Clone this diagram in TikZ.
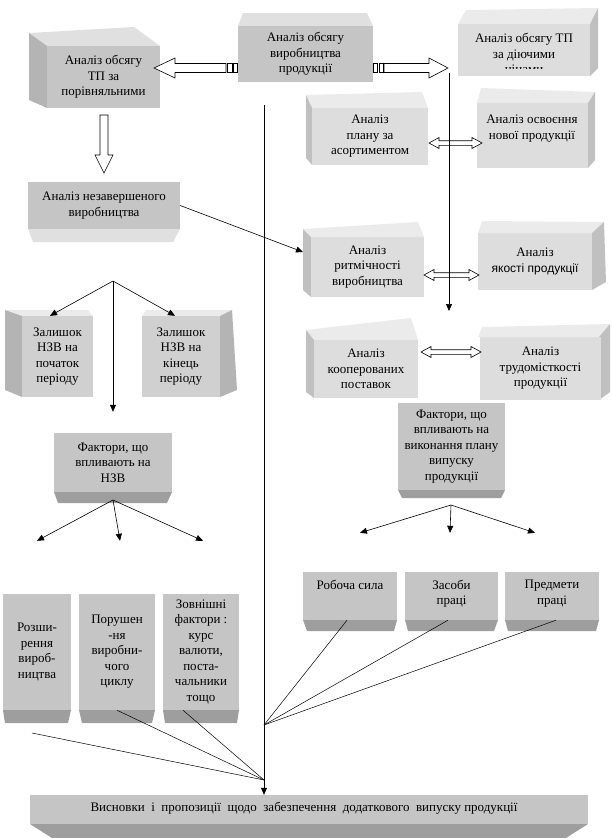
\documentclass[tikz,border=0pt]{standalone}
\usepackage{fontspec}
\setmainfont{Liberation Serif}
\newfontfamily\arialfont{Liberation Sans}
\usetikzlibrary{arrows.meta}

\definecolor{midfront}{RGB}{197,197,197}
\definecolor{midtop}{RGB}{224,224,224}
\definecolor{midside}{RGB}{180,180,180}
\definecolor{palefront}{RGB}{221,221,221}
\definecolor{paletop}{RGB}{235,235,235}
\definecolor{paleside}{RGB}{192,192,192}
\definecolor{restfront}{RGB}{208,208,208}
\definecolor{darkbase}{RGB}{158,158,158}

\tikzset{
  front/.style={fill=#1, inner sep=0pt, align=center, font=\fontsize{13}{15.5}\selectfont},
  txt/.style={inner sep=0pt, align=center, font=\fontsize{13}{15.5}\selectfont},
  link/.style={line width=0.6pt, -{Triangle[length=7pt,width=6pt]}},
  ray/.style={line width=0.5pt},
  hollow/.style={draw, fill=white, line width=0.6pt},
}

\begin{document}
\begin{tikzpicture}[x=1pt,y=-1pt]
	\useasboundingbox (0,0) rectangle (612,838);

	% top row
	\fill[midtop] (238,26) -- (243,13) -- (367,13) -- (373,26) -- cycle;
	\node[front=midfront, minimum width=135, minimum height=56] (obsyag) at (305.5,54) {Аналіз обсягу\\виробництва\\продукції};
	\fill[midtop] (47,46) -- (29,33) -- (134,27) -- (160,46) -- cycle;
	\fill[midside] (47,46) -- (29,33) -- (29,100) -- (47,108) -- cycle;
	\node[front=midfront, minimum width=113, minimum height=62] (porivn) at (103.5,77) {Аналіз обсягу\\ТП за\\порівняльними};
	\fill[paletop] (458,24) -- (466,10) -- (598,8) -- (590,24) -- cycle;
	\fill[paleside] (590,24) -- (598,8) -- (598,68) -- (590,76) -- cycle;
	\node[front=palefront, minimum width=132, minimum height=52] (diuchi) at (524,50) {};
	\begin{scope}
		\clip (458,24) rectangle (590,68.5);
		\node[txt] (diuchiT) at (524,55) {Аналіз обсягу ТП\\за діючими\\цінами};
	\end{scope}

	% right column
	\fill[paletop] (312,108) -- (306,95) -- (422,92) -- (428,108) -- cycle;
	\fill[paleside] (312,108) -- (306,95) -- (306,158) -- (312,165) -- cycle;
	\node[front=palefront, minimum width=116, minimum height=57] (asort) at (370,136.5) {Аналіз\\плану за\\асортиментом};
	\fill[paletop] (477,103) -- (481,88) -- (595,92) -- (588,103) -- cycle;
	\fill[paleside] (588,103) -- (595,92) -- (595,160) -- (588,168) -- cycle;
	\node[front=palefront, minimum width=111, minimum height=65] (osvoen) at (532.5,135.5) {};
	\node[txt] (osvoenT) at (532,128.5) {Аналіз освоєння\\нової продукції};
	\fill[paletop] (311,237) -- (303,229) -- (418,222) -- (424,237) -- cycle;
	\fill[paleside] (311,237) -- (303,229) -- (303,290) -- (311,297) -- cycle;
	\node[front=palefront, minimum width=113, minimum height=60] (rytm) at (367.5,267) {Аналіз\\ритмічності\\виробництва};
	\fill[paletop] (478,233) -- (482,221) -- (604,222) -- (592,233) -- cycle;
	\fill[paleside] (592,233) -- (604,222) -- (606,282) -- (592,290) -- cycle;
	\node[front=palefront, minimum width=114, minimum height=57] (yakist) at (535,261.5) {Аналіз\\{\arialfont\fontsize{12}{15.5}\selectfont якості продукції}};
	\fill[paletop] (314,340) -- (306,330) -- (411,318) -- (418,340) -- cycle;
	\fill[paleside] (314,340) -- (306,330) -- (306,392) -- (314,398) -- cycle;
	\node[front=palefront, minimum width=104, minimum height=58] (koop) at (366,369) {Аналіз\\кооперованих\\поставок};
	\fill[paletop] (478,337) -- (482,327) -- (610,324) -- (599,337) -- cycle;
	\fill[paleside] (599,337) -- (610,324) -- (610,392) -- (599,400) -- cycle;
	\node[front=palefront, minimum width=121, minimum height=63] (trud) at (540.5,368.5) {Аналіз\\трудомісткості\\продукції};

	% left column
	\fill[midtop] (28,229) -- (180,229) -- (173,242) -- (33,242) -- cycle;
	\node[front=midfront, minimum width=152, minimum height=47] (nezav) at (104,205.5) {Аналіз незавершеного\\виробництва};
	\fill[paletop] (22,316) -- (5,310) -- (88,310) -- (93,316) -- cycle;
	\fill[midside] (22,316) -- (5,310) -- (5,390) -- (22,397) -- cycle;
	\node[front=restfront, minimum width=71, minimum height=81] (zalPoch) at (57.5,356.5) {Залишок\\НЗВ на\\початок\\періоду};
	\fill[paletop] (142,316) -- (146,310) -- (232,310) -- (220,316) -- cycle;
	\fill[midside] (220,316) -- (232,310) -- (237,390) -- (220,397) -- cycle;
	\node[front=restfront, minimum width=78, minimum height=81] (zalKin) at (181,356.5) {Залишок\\НЗВ на\\кінець\\періоду};

	% factors
	\fill[darkbase] (54,492) -- (172,492) -- (167,503) -- (58,503) -- cycle;
	\node[front=midfront, minimum width=118, minimum height=59] (faktNzv) at (113,462.5) {Фактори, що\\впливають на\\НЗВ};
	\fill[darkbase] (398,490) -- (505,490) -- (501,498) -- (402,498) -- cycle;
	\node[front=midfront, minimum width=107, minimum height=87] (faktPlan) at (451.5,446.5) {Фактори, що\\впливають на\\виконання плану\\випуску\\продукції};

	% lower boxes
	\fill[darkbase] (3,710) -- (71,710) -- (68,723) -- (5,723) -- cycle;
	\node[front=midfront, minimum width=68, minimum height=116] (rozsh) at (37,652) {Розши-\\рення\\вироб-\\ництва};
	\fill[darkbase] (79,710) -- (155,710) -- (152,723) -- (82,723) -- cycle;
	\node[front=midfront, minimum width=76, minimum height=116] (porush) at (117,652) {Порушен\\-ня\\виробни-\\чого\\циклу};
	\fill[darkbase] (163,710) -- (239,710) -- (237,723) -- (165,723) -- cycle;
	\node[front=midfront, minimum width=76, minimum height=116] (zovn) at (201,652) {Зовнішні\\фактори :\\курс\\валюти,\\поста-\\чальники\\тощо};
	\fill[darkbase] (303,620) -- (397,620) -- (394,631) -- (307,631) -- cycle;
	\node[front=midfront, minimum width=94, minimum height=48] (robocha) at (350,596) {};
	\node[txt, anchor=north] (robochaT) at ([yshift=-8]robocha.north) {Робоча сила};
	\fill[darkbase] (405,620) -- (498,620) -- (494,631) -- (408,631) -- cycle;
	\node[front=midfront, minimum width=93, minimum height=48] (zasoby) at (451.5,596) {};
	\node[txt, anchor=north] (zasobyT) at ([yshift=-8]zasoby.north) {Засоби\\праці};
	\fill[darkbase] (505,620) -- (599,620) -- (596,631) -- (508,631) -- cycle;
	\node[front=midfront, minimum width=94, minimum height=48] (predm) at (552,596) {};
	\node[txt, anchor=north] (predmT) at ([yshift=-8]predm.north) {Предмети\\праці};

	% conclusions
	\fill[darkbase] (30,824) -- (588,824) -- (566,838) -- (52,838) -- cycle;
	\node[front=midfront, minimum width=558, minimum height=29] (vysn) at (309,809.5) {};
	\node[txt] (vysnT) at (304,808) {Висновки\ \ і\ \ пропозиції\ \ щодо\ \ забезпечення\ \ додаткового\ \ випуску продукції};

	% block arrows
	\draw[hollow] (154,68) -- (175,58) -- (175,63.5) -- (226,63.5) -- (226,72.5) -- (175,72.5) -- (175,78) -- cycle;
	\draw[hollow] (227,63.5) rectangle (232,72.5);
	\draw[hollow] (233,63.5) rectangle (237.5,72.5);
	\draw[hollow] (373.5,63.5) rectangle (377.5,72.5);
	\draw[hollow] (379,63.5) rectangle (383,72.5);
	\draw[hollow] (384,63.5) -- (429,63.5) -- (429,58) -- (448,68) -- (429,78) -- (429,72.5) -- (384,72.5) -- cycle;
	\draw[hollow] (100,115) -- (108,115) -- (108,155) -- (113,155) -- (104,173) -- (95,155) -- (100,155) -- cycle;
	\foreach \xa/\xb/\yy in {429/482/143, 424/479/275, 421/481/352}
		\draw[hollow] (\xa,\yy) -- (\xa+10,\yy-5.5) -- (\xa+10,\yy-2.3) -- (\xb-10,\yy-2.3) -- (\xb-10,\yy-5.5) -- (\xb,\yy)
			-- (\xb-10,\yy+5.5) -- (\xb-10,\yy+2.3) -- (\xa+10,\yy+2.3) -- (\xa+10,\yy+5.5) -- cycle;

	% thin connectors
	\coordinate (trunkTop) at (264,105);
	\coordinate (branchTop) at (449,73);
	\coordinate (branchEnd) at (449,311);
	\coordinate (rytmIn) at (303,252);
	\coordinate (split) at (113,281);
	\coordinate (nzvFork) at (113,500);
	\coordinate (planFork) at (451,505);
	\coordinate (joinR) at (264,725);
	\coordinate (joinL) at (264,780);
	\coordinate (freeL) at (32,733);
	\draw[link] (trunkTop) -- (trunkTop |- vysn.north);
	\draw[link] (branchTop) -- (branchEnd);
	\draw[link] (nezav.east) -- (rytmIn);
	\draw[link] (split) -- ([xshift=-7.5]zalPoch.north);
	\draw[link] (split) -- ([xshift=-6]zalKin.north);
	\draw[link] (split) -- ([yshift=21]faktNzv.north);
	\draw[link] (nzvFork) -- ([yshift=53]rozsh.north);
	\draw[link] (nzvFork) -- ([xshift=3,yshift=53]porush.north);
	\draw[link] (nzvFork) -- ([xshift=2,yshift=53]zovn.north);
	\draw[link] (planFork) -- ([xshift=10,yshift=39]robocha.north);
	\draw[link] (planFork) -- ([xshift=-1.5,yshift=39]zasoby.north);
	\draw[link] (planFork) -- ([xshift=-17,yshift=39]predm.north);
	\draw[ray] ([xshift=-3]robocha.south) -- (joinR);
	\draw[ray] ([xshift=-3.5]zasoby.south) -- (joinR);
	\draw[ray] ([xshift=4]predm.south) -- (joinR);
	\draw[ray] (freeL) -- (joinL);
	\draw[ray] (porush.south) -- (joinL);
	\draw[ray] ([xshift=-18]zovn.south) -- (joinL);
\end{tikzpicture}
\end{document}
